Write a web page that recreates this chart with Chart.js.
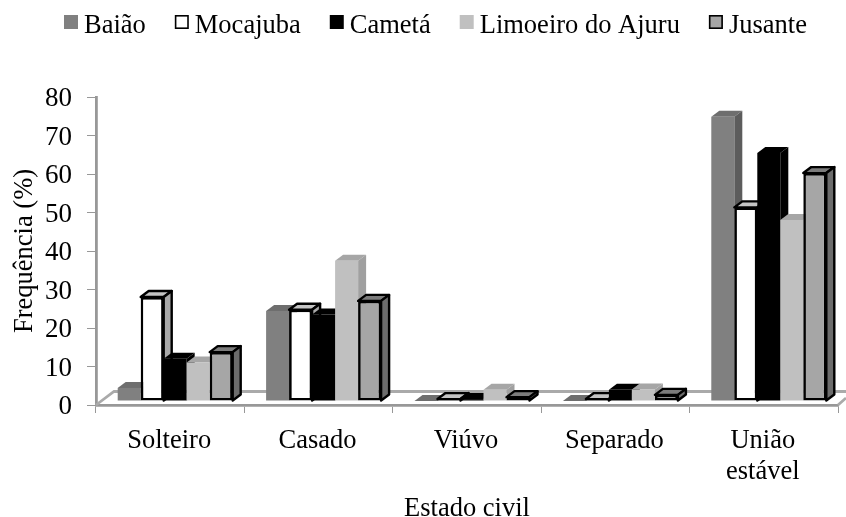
<!DOCTYPE html>
<html>
<head>
<meta charset="utf-8">
<style>html,body{margin:0;padding:0;background:#fff}canvas{display:block}</style>
<script src="https://cdn.jsdelivr.net/npm/chart.js@4"></script>
</head>
<body>
<canvas id="c" width="846" height="517"></canvas>
<script>
const categories = ['Solteiro', 'Casado', 'Viúvo', 'Separado', ['União', 'estável']];
const baiao = [3.4, 23.4, 0, 0, 73.8];
const mocajuba = [27, 23.7, 0.5, 0.5, 50.3];
const cameta = [11, 22.5, 0.5, 2.9, 64.4];
const limoeiro = [10, 36.4, 2.9, 3, 47];
const jusante = [12.7, 26, 1, 1.6, 59.2];
const serif = '"Liberation Serif", "Times New Roman", serif';
const axisGrey = '#989898';

const shades = [
  { front: '#808080', top: '#6e6e6e', side: '#5c5c5c', line: 0 },
  { front: '#ffffff', top: '#c4c4c4', side: '#a8a8a8', line: 2.6 },
  { front: '#000000', top: '#000000', side: '#000000', line: 0 },
  { front: '#c0c0c0', top: '#a6a6a6', side: '#a0a0a0', line: 0 },
  { front: '#a6a6a6', top: '#7c7c7c', side: '#6c6c6c', line: 2.6 }
];
const makeSet = (label, data, s) => ({
  label, data,
  backgroundColor: s.front,
  borderColor: '#000000',
  borderWidth: s.line,
  borderSkipped: false,
  categoryPercentage: 0.775,
  barPercentage: 1
});

const DX = 8, DY = 6;      // depth of the bars' extruded faces
const SHIFT_X = 5, SHIFT_Y = -4; // bars stand slightly inside the floor

function poly(ctx, pts, fill, stroke) {
  ctx.beginPath();
  pts.forEach((p, i) => i ? ctx.lineTo(p[0], p[1]) : ctx.moveTo(p[0], p[1]));
  ctx.closePath();
  ctx.fillStyle = fill;
  ctx.fill();
  if (stroke) {
    ctx.lineWidth = 2.4;
    ctx.lineJoin = 'round';
    ctx.strokeStyle = '#000000';
    ctx.stroke();
  }
}

const floorAndBars = {
  id: 'floorAndBars',
  beforeDatasetsDraw(chart) {
    const { ctx, chartArea: a, scales: { y } } = chart;
    const base = y.getPixelForValue(0);
    // floor of the box behind the bars
    ctx.save();
    ctx.strokeStyle = '#aaaaaa';
    ctx.lineWidth = 2.8;
    ctx.beginPath();
    ctx.moveTo(a.left, base);
    ctx.lineTo(a.left + 18, base - 13.5);
    ctx.lineTo(846, base - 13.5);
    ctx.moveTo(a.right, base);
    ctx.lineTo(846, base - 7);
    ctx.stroke();
    ctx.restore();

    // draw series left to right so each bar overlaps its neighbour's side face
    ctx.save();
    ctx.translate(SHIFT_X, SHIFT_Y);
    chart.data.datasets.forEach((ds, i) => {
      const s = shades[i];
      const stroke = s.line > 0;
      chart.getDatasetMeta(i).data.forEach(bar => {
        const p = bar.getProps(['x', 'y', 'base', 'width'], true);
        const l = p.x - p.width / 2, r = p.x + p.width / 2;
        poly(ctx, [[l, p.y], [l + DX, p.y - DY], [r + DX, p.y - DY], [r, p.y]], s.top, stroke);
        poly(ctx, [[r, p.y], [r + DX, p.y - DY], [r + DX, p.base - DY], [r, p.base]], s.side, stroke);
        bar.draw(ctx, a);
      });
    });
    ctx.restore();
    return false;
  }
};

const topLegend = {
  id: 'topLegend',
  afterDraw(chart) {
    const { ctx } = chart;
    ctx.save();
    ctx.font = '26.5px ' + serif;
    ctx.textBaseline = 'alphabetic';
    ctx.textAlign = 'left';
    let x = 64;
    chart.data.datasets.forEach((ds, i) => {
      const s = shades[i];
      ctx.fillStyle = s.front;
      ctx.fillRect(x, 15, 14, 14);
      if (s.line) {
        ctx.strokeStyle = '#000000';
        ctx.lineWidth = 1.6;
        ctx.strokeRect(x + 0.8, 15.8, 12.4, 12.4);
      }
      ctx.fillStyle = '#000000';
      ctx.fillText(ds.label, x + 20, 33);
      x += 20 + ctx.measureText(ds.label).width + 29;
    });
    ctx.restore();
  }
};

new Chart(document.getElementById('c'), {
  type: 'bar',
  data: {
    labels: categories,
    datasets: [
      makeSet('Baião', baiao, shades[0]),
      makeSet('Mocajuba', mocajuba, shades[1]),
      makeSet('Cametá', cameta, shades[2]),
      makeSet('Limoeiro do Ajuru', limoeiro, shades[3]),
      makeSet('Jusante', jusante, shades[4])
    ]
  },
  options: {
    responsive: false,
    animation: false,
    layout: { padding: { top: 97, right: 8 } },
    plugins: { legend: { display: false }, tooltip: { enabled: false } },
    scales: {
      x: {
        afterFit(s) { s.height = 112; },
        grid: { drawOnChartArea: false, color: axisGrey, tickLength: 8, offset: true },
        border: { color: axisGrey, width: 2.8 },
        ticks: { color: '#000', font: { family: serif, size: 26.5, lineHeight: 1.18 }, maxRotation: 0, autoSkip: false, padding: 12, labelOffset: -1 },
        title: { display: true, text: 'Estado civil', color: '#000', font: { family: serif, size: 26.5, lineHeight: 1 }, padding: { top: 0, bottom: -5 } }
      },
      y: {
        min: 0, max: 80,
        afterFit(s) { s.width = 96; },
        grid: { drawOnChartArea: false, color: axisGrey, tickLength: 9 },
        border: { color: axisGrey, width: 2.8 },
        ticks: { stepSize: 10, color: '#000', font: { family: serif, size: 27 }, padding: 15, labelOffset: 2 },
        title: { display: true, text: 'Frequência (%)', color: '#000', font: { family: serif, size: 26.5 }, padding: { top: 9, bottom: 0 } }
      }
    }
  },
  plugins: [floorAndBars, topLegend]
});
</script>
</body>
</html>
